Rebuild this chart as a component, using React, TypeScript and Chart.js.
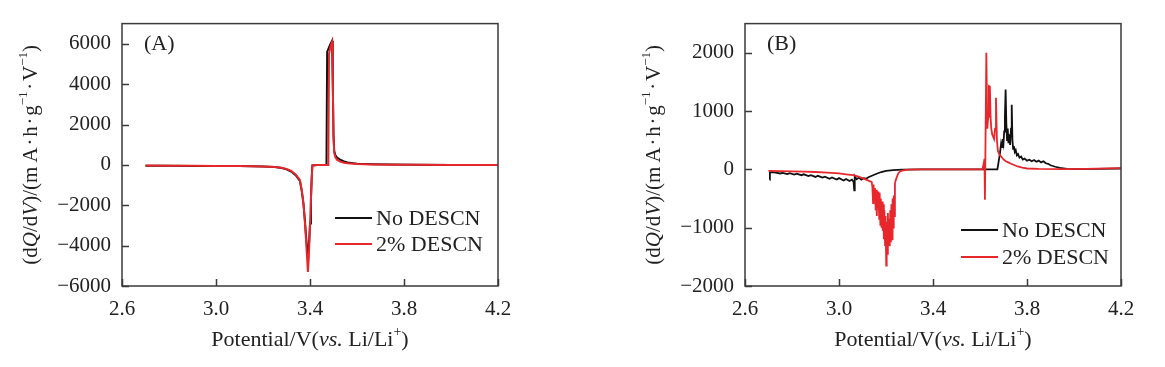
import React, { useEffect, useRef } from 'react';
import { Chart, registerables } from 'chart.js';

Chart.register(...registerables);

// ---------- data ----------
const SERIES_NAMES = ['No DESCN', '2% DESCN'];
const SERIES_COLORS = ['#111111', '#e8272c'];
const X_TICKS = [2.6, 3.0, 3.4, 3.8, 4.2];
const Y_TICKS_A = [-6000, -4000, -2000, 0, 2000, 4000, 6000];
const Y_TICKS_B = [-2000, -1000, 0, 1000, 2000];

// Panel A: [potential V, dQ/dV]
const panelANoDescn: number[][] = [
  [2.70, -40], [2.80, -45], [2.90, -50], [3.00, -55], [3.10, -60], [3.20, -80], [3.25, -110],
  [3.28, -150], [3.30, -220], [3.32, -330], [3.34, -520], [3.357, -800], [3.365, -1300],
  [3.372, -1900], [3.378, -2700], [3.383, -3500], [3.388, -4200], [3.392, -4400], [3.396, -3900],
  [3.400, -2900], [3.404, -1700], [3.407, -700], [3.410, -30], [3.43, 0], [3.470, 0],
  [3.473, 5600], [3.485, 5950], [3.494, 6150], [3.497, 4000], [3.500, 1500], [3.503, 700],
  [3.508, 480], [3.515, 360], [3.528, 260], [3.545, 170], [3.56, 120], [3.60, 60], [3.67, 30],
  [3.75, 15], [3.85, 5], [4.00, 0], [4.20, 0],
];
const panelA2Descn: number[][] = [
  [2.70, -35], [2.80, -40], [2.90, -45], [3.00, -50], [3.10, -55], [3.20, -75], [3.25, -100],
  [3.28, -140], [3.30, -200], [3.32, -300], [3.34, -480], [3.357, -750], [3.365, -1250],
  [3.372, -1900], [3.378, -2800], [3.383, -3700], [3.388, -4700], [3.391, -5300], [3.395, -4600],
  [3.399, -3300], [3.403, -2000], [3.407, -800], [3.410, -30], [3.43, 0], [3.478, 0],
  [3.481, 5500], [3.488, 5900], [3.494, 6100], [3.497, 4000], [3.500, 1400], [3.503, 600],
  [3.508, 380], [3.515, 260], [3.528, 170], [3.545, 110], [3.56, 80], [3.60, 40], [3.67, 20],
  [3.75, 10], [3.85, 3], [4.00, 0], [4.20, 0],
];

// Panel B: [potential V, dQ/dV]
const panelBNoDescn: number[][] = [
  [2.705, -180], [2.706, -50], [2.715, -45], [2.73, -55], [2.75, -70], [2.76, -60], [2.78, -80],
  [2.79, -65], [2.81, -90], [2.82, -75], [2.84, -100], [2.85, -85], [2.87, -115], [2.88, -100],
  [2.90, -130], [2.91, -110], [2.93, -140], [2.94, -125], [2.96, -160], [2.97, -140], [2.99, -175],
  [3.00, -150], [3.02, -190], [3.03, -165], [3.045, -200], [3.055, -175], [3.062, -210],
  [3.065, -360], [3.067, -120], [3.075, -170], [3.085, -140], [3.095, -175], [3.105, -150],
  [3.115, -160], [3.125, -135], [3.14, -110], [3.16, -75], [3.18, -45], [3.20, -25], [3.23, -12],
  [3.27, -4], [3.35, 0], [3.60, 0], [3.674, 0], [3.680, 150], [3.685, 280], [3.690, 450],
  [3.694, 380], [3.697, 520], [3.700, 450], [3.703, 650], [3.706, 900], [3.709, 1370],
  [3.712, 800], [3.715, 500], [3.718, 700], [3.721, 450], [3.725, 600], [3.728, 420],
  [3.732, 700], [3.735, 1110], [3.738, 500], [3.741, 350], [3.744, 400], [3.748, 300],
  [3.752, 330], [3.757, 240], [3.762, 260], [3.768, 200], [3.775, 220], [3.782, 170],
  [3.79, 185], [3.80, 150], [3.81, 165], [3.82, 140], [3.83, 160], [3.84, 130], [3.85, 150],
  [3.86, 120], [3.87, 140], [3.88, 105], [3.89, 95], [3.90, 70], [3.92, 45], [3.94, 25],
  [3.97, 8], [4.00, 5], [4.10, 10], [4.20, 15],
];
const panelB2Descn: number[][] = [
  [2.70, -25], [2.75, -30], [2.80, -35], [2.85, -40], [2.90, -45], [2.95, -55], [3.00, -70],
  [3.03, -85], [3.06, -100], [3.08, -120], [3.10, -150], [3.115, -175], [3.13, -200],
  [3.139, -214], [3.142, -300], [3.145, -580], [3.147, -260], [3.150, -520], [3.153, -320],
  [3.156, -700], [3.158, -350], [3.161, -800], [3.163, -420], [3.166, -650], [3.168, -380],
  [3.171, -850], [3.173, -400], [3.176, -950], [3.178, -500], [3.181, -1000], [3.183, -550],
  [3.186, -1050], [3.188, -600], [3.191, -1200], [3.193, -700], [3.196, -1300], [3.198, -800],
  [3.201, -1650], [3.203, -900], [3.206, -1450], [3.208, -750], [3.211, -1300], [3.213, -850],
  [3.216, -1320], [3.218, -700], [3.221, -1250], [3.223, -600], [3.226, -1200], [3.228, -500],
  [3.231, -1000], [3.233, -450], [3.236, -800], [3.238, -240], [3.242, -180], [3.246, -130],
  [3.252, -70], [3.26, -35], [3.275, -15], [3.30, -5], [3.35, 0], [3.61, 0], [3.616, 100],
  [3.619, 180], [3.621, -520], [3.623, 300], [3.627, 2000], [3.631, 700], [3.635, 900],
  [3.638, 1430], [3.642, 1420], [3.645, 900], [3.648, 700], [3.652, 600], [3.656, 560],
  [3.660, 520], [3.664, 700], [3.668, 1230], [3.672, 500], [3.676, 320], [3.682, 260],
  [3.69, 220], [3.70, 170], [3.71, 140], [3.72, 120], [3.73, 100], [3.745, 75], [3.76, 50],
  [3.78, 30], [3.80, 15], [3.85, 8], [3.95, 6], [4.05, 10], [4.20, 20],
];

// ---------- styling ----------
const FONT = "'Liberation Serif', 'Times New Roman', serif";
const TEXT = '#222222';
const AXIS = '#3a3a3a';
const H = 367;

type Seg = { t: string; it?: boolean; sup?: boolean };
const X_TITLE: Seg[] = [
  { t: 'Potential/V(' }, { t: 'vs.', it: true }, { t: ' Li/Li' }, { t: '+', sup: true }, { t: ')' },
];
const Y_TITLE: Seg[] = [
  { t: '(d' }, { t: 'Q', it: true }, { t: '/d' }, { t: 'V', it: true },
  { t: ')/(m\u2009A\u200A·\u200Ah\u200A·\u200Ag' }, { t: '\u22121', sup: true },
  { t: '\u200A·\u200AV' }, { t: '\u22121', sup: true }, { t: ')' },
];

function drawRich(ctx: CanvasRenderingContext2D, segs: Seg[], cx: number, cy: number, size: number) {
  const fontFor = (s: Seg) =>
    `${s.it ? 'italic ' : ''}${s.sup ? Math.round(size * 0.62) : size}px ${FONT}`;
  let total = 0;
  const widths = segs.map((s) => {
    ctx.font = fontFor(s);
    const w = ctx.measureText(s.t).width;
    total += w;
    return w;
  });
  let x = cx - total / 2;
  ctx.textBaseline = 'middle';
  ctx.textAlign = 'left';
  ctx.fillStyle = TEXT;
  segs.forEach((s, i) => {
    ctx.font = fontFor(s);
    ctx.fillText(s.t, x, s.sup ? cy - size * 0.33 : cy);
    x += widths[i];
  });
}

type PanelCfg = {
  width: number;
  yMin: number;
  yMax: number;
  yTicks: number[];
  yAxisWidth: number;
  padRight: number;
  label: string;
  series: number[][][];
  lineWidth: number;
  legendX: number; // offset from chart left where legend line starts
  legendY: number[];
};

const framePlugin = {
  id: 'frameAndText',
  afterDraw(chart: any) {
    const { ctx, chartArea: ca, scales } = chart;
    const cfg: PanelCfg = chart.options.plugins.frameAndText.cfg;
    ctx.save();
    // frame
    ctx.strokeStyle = AXIS;
    ctx.lineWidth = 1.5;
    ctx.strokeRect(ca.left, ca.top, ca.right - ca.left, ca.bottom - ca.top);
    // inward tick marks
    ctx.lineWidth = 1.5;
    ctx.beginPath();
    scales.x.ticks.forEach((t: any) => {
      const px = Math.round(scales.x.getPixelForValue(t.value)) + 0.5;
      ctx.moveTo(px, ca.bottom);
      ctx.lineTo(px, ca.bottom - 7);
    });
    scales.y.ticks.forEach((t: any) => {
      const py = Math.round(scales.y.getPixelForValue(t.value)) + 0.5;
      ctx.moveTo(ca.left, py);
      ctx.lineTo(ca.left + 7, py);
    });
    ctx.stroke();
    // titles
    drawRich(ctx, X_TITLE, (ca.left + ca.right) / 2, ca.bottom + 54, 22);
    ctx.save();
    ctx.translate(ca.left - 91, (ca.top + ca.bottom) / 2);
    ctx.rotate(-Math.PI / 2);
    drawRich(ctx, Y_TITLE, 0, 0, 21);
    ctx.restore();
    // panel label
    ctx.font = `22px ${FONT}`;
    ctx.fillStyle = TEXT;
    ctx.textAlign = 'left';
    ctx.textBaseline = 'middle';
    ctx.fillText(cfg.label, ca.left + 22, 44);
    // legend
    SERIES_NAMES.forEach((name, i) => {
      const y = cfg.legendY[i];
      ctx.strokeStyle = SERIES_COLORS[i];
      ctx.lineWidth = 2;
      ctx.beginPath();
      ctx.moveTo(ca.left + cfg.legendX, y);
      ctx.lineTo(ca.left + cfg.legendX + 37, y);
      ctx.stroke();
      ctx.fillStyle = TEXT;
      ctx.font = `22px ${FONT}`;
      ctx.fillText(name, ca.left + cfg.legendX + 41, y + 1);
    });
    ctx.restore();
  },
};

function buildConfig(cfg: PanelCfg): any {
  return {
    type: 'line',
    data: {
      datasets: cfg.series.map((pts, i) => ({
        label: SERIES_NAMES[i],
        data: pts.map(([x, y]) => ({ x, y })),
        borderColor: SERIES_COLORS[i],
        borderWidth: cfg.lineWidth,
        pointRadius: 0,
        tension: 0,
        fill: false,
        order: i === 0 ? 1 : 0,
      })),
    },
    options: {
      animation: false,
      responsive: false,
      maintainAspectRatio: false,
      devicePixelRatio: 1,
      layout: { padding: { left: 0, right: cfg.padRight, top: 19, bottom: 0 } },
      plugins: {
        legend: { display: false },
        tooltip: { enabled: false },
        frameAndText: { cfg },
      },
      scales: {
        x: {
          type: 'linear',
          min: 2.6,
          max: 4.2,
          afterBuildTicks: (s: any) => { s.ticks = X_TICKS.map((v) => ({ value: v })); },
          afterFit: (s: any) => { s.height = H - 286; },
          grid: { display: false, drawTicks: false, tickLength: 0 },
          border: { display: false },
          ticks: {
            padding: 11,
            color: TEXT,
            font: { family: FONT, size: 21 },
            maxRotation: 0,
            callback: (v: number) => v.toFixed(1),
          },
        },
        y: {
          type: 'linear',
          min: cfg.yMin,
          max: cfg.yMax,
          afterBuildTicks: (s: any) => { s.ticks = cfg.yTicks.map((v) => ({ value: v })); },
          afterFit: (s: any) => { s.width = cfg.yAxisWidth; },
          grid: { display: false, drawTicks: false, tickLength: 0 },
          border: { display: false },
          ticks: {
            padding: 11,
            color: TEXT,
            font: { family: FONT, size: 21 },
            callback: (v: number) => (v < 0 ? '\u2212' + Math.abs(v) : String(v)),
          },
        },
      },
    },
    plugins: [framePlugin],
  };
}

const PANEL_A: PanelCfg = {
  width: 582, yMin: -6000, yMax: 7000, yTicks: Y_TICKS_A, yAxisWidth: 122, padRight: 84,
  label: '(A)', series: [panelANoDescn, panelA2Descn], lineWidth: 2, legendX: 213, legendY: [218, 244],
};
const PANEL_B: PanelCfg = {
  width: 583, yMin: -2000, yMax: 2500, yTicks: Y_TICKS_B, yAxisWidth: 163, padRight: 44,
  label: '(B)', series: [panelBNoDescn, panelB2Descn], lineWidth: 1.8, legendX: 216, legendY: [230, 257],
};

function Panel({ cfg, left }: { cfg: PanelCfg; left: number }) {
  const ref = useRef<HTMLCanvasElement>(null);
  useEffect(() => {
    const chart = new Chart(ref.current as HTMLCanvasElement, buildConfig(cfg));
    return () => chart.destroy();
  }, [cfg]);
  return (
    <canvas
      ref={ref}
      width={cfg.width}
      height={H}
      style={{ position: 'absolute', left, top: 0, width: cfg.width, height: H }}
    />
  );
}

export default function App() {
  return (
    <div style={{ position: 'absolute', left: 0, top: 0, width: 1165, height: H, background: '#fff' }}>
      <Panel cfg={PANEL_A} left={0} />
      <Panel cfg={PANEL_B} left={582} />
    </div>
  );
}
